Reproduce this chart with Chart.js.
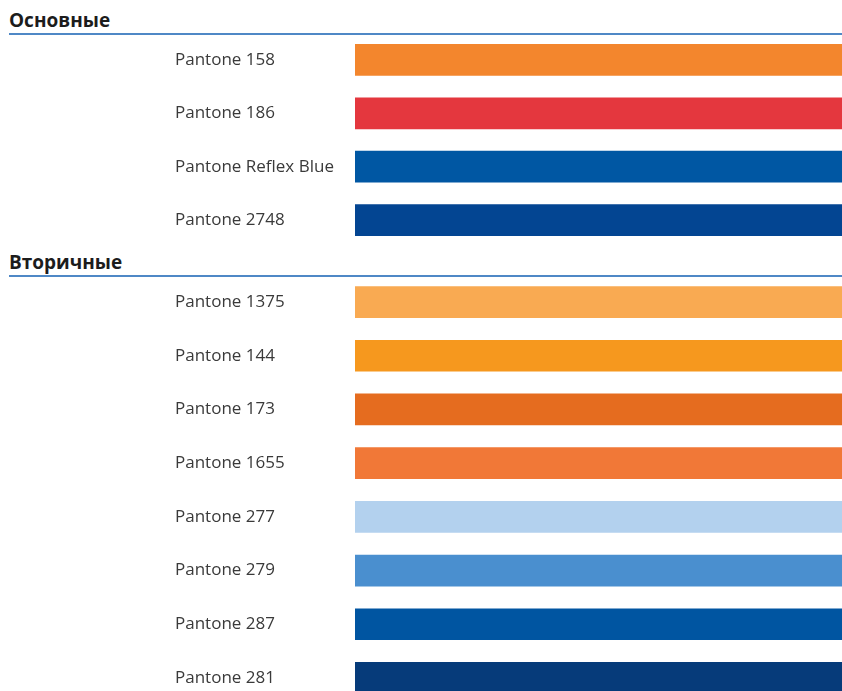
<!DOCTYPE html>
<html>
<head>
<meta charset="utf-8">
<script src="https://cdn.jsdelivr.net/npm/chart.js@4"></script>
<style>
  html, body { margin: 0; padding: 0; background: #fff; width: 842px; height: 691px; overflow: hidden; }
  body { position: relative; font-family: "Open Sans", sans-serif; }
  .hdr { position: absolute; left: 9px; font-weight: bold; font-size: 19px; color: #1c1c1c; line-height: 22px; }
  .rule { position: absolute; left: 9px; right: 0; height: 2px; background: #4f88c6; }
  .box { position: absolute; left: 0; width: 842px; }
</style>
</head>
<body>
<div class="hdr" style="top:9px">Основные</div>
<div class="rule" style="top:33px"></div>
<div class="hdr" style="top:251px">Вторичные</div>
<div class="rule" style="top:275px"></div>
<div class="box" style="top:20px;height:240px"><canvas id="primary"></canvas></div>
<div class="box" style="top:262px;height:456px"><canvas id="secondary"></canvas></div>
<script>
const primaryNames = ['Pantone 158', 'Pantone 186', 'Pantone Reflex Blue', 'Pantone 2748'];
const primaryValues = [1, 1, 1, 1];
const primaryColors = ['#f3862d', '#e4373e', '#0057a3', '#034592'];

const secondaryNames = ['Pantone 1375', 'Pantone 144', 'Pantone 173', 'Pantone 1655',
  'Pantone 277', 'Pantone 279', 'Pantone 287', 'Pantone 281'];
const secondaryValues = [1, 1, 1, 1, 1, 1, 1, 1];
const secondaryColors = ['#f9aa52', '#f6981e', '#e56c1f', '#f17837',
  '#b3d1ee', '#4a8fcf', '#0055a1', '#063b7a'];

function swatches(id, names, values, colors) {
  new Chart(document.getElementById(id), {
    type: 'bar',
    data: {
      labels: names,
      datasets: [{
        data: values,
        backgroundColor: colors,
        borderWidth: 0,
        barThickness: 31
      }]
    },
    options: {
      indexAxis: 'y',
      responsive: true,
      maintainAspectRatio: false,
      animation: false,
      layout: { padding: { left: 175, right: 0, top: 0, bottom: 0 } },
      plugins: { legend: { display: false }, tooltip: { enabled: false } },
      scales: {
        x: { display: false, min: 0, max: 1 },
        y: {
          grid: { display: false },
          border: { display: false },
          afterFit: (axis) => { axis.width = 180; },
          ticks: {
            crossAlign: 'far',
            color: '#3a3a3a',
            font: { family: 'Open Sans', size: 17 }
          }
        }
      }
    }
  });
}

swatches('primary', primaryNames, primaryValues, primaryColors);
swatches('secondary', secondaryNames, secondaryValues, secondaryColors);
</script>
</body>
</html>
